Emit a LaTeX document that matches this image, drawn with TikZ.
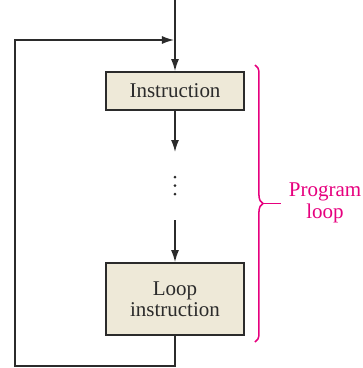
\documentclass[tikz,border=0pt]{standalone}
\usepackage{fontspec}
\setmainfont{Liberation Serif}
\usetikzlibrary{arrows.meta,decorations.pathreplacing}
\definecolor{boxfill}{HTML}{EEE9D8}
\definecolor{mag}{HTML}{E6007E}
\definecolor{edge}{HTML}{2B2B2B}
\begin{document}
\begin{tikzpicture}[x=1pt,y=-1pt,
  flowbox/.style={draw=edge,line width=1.8pt,fill=boxfill,minimum width=138pt,inner sep=0pt,align=center,font=\fontsize{21}{20.5}\selectfont,text=edge},
  conn/.style={draw=edge,line width=1.4pt},
  arr/.style={conn,-{Latex[length=12pt,width=8pt]}},
  dotmark/.style={fill=edge,circle,inner sep=0pt,minimum size=3pt}]
\useasboundingbox (0,0) rectangle (363,368);
\node[flowbox,minimum height=38pt] (ins) at (175,91) {Instruction};
\node[flowbox,minimum height=72pt] (loop) at (175,299) {Loop\\instruction};
\coordinate (top) at (175,0);
\coordinate (join) at (175,40);
\coordinate (joinin) at (174,40);
\coordinate (a1) at (175,152);
\coordinate (a2) at (175,220);
\node[dotmark] (d1) at (175,177) {};
\node[dotmark] (d2) at (175,185.5) {};
\node[dotmark] (d3) at (175,194) {};
\coordinate (b1) at (175,366);
\coordinate (b2) at (15,366);
\coordinate (b3) at (15,40);
\draw[conn] (top) -- (join);
\draw[arr] (join) -- (ins.north);
\draw[arr] (ins.south) -- (a1);
\draw[arr] (a2) -- (loop.north);
\draw[arr] (loop.south) -- (b1) -- (b2) -- (b3) -- (joinin);
\coordinate (br1) at (255,65);
\coordinate (br2) at (255,342);
\coordinate (tip) at (263,203.5);
\coordinate (tipend) at (281,203.5);
\draw[mag,line width=1.5pt,decorate,decoration={brace,amplitude=8pt}] (br1) -- (br2);
\draw[mag,line width=1.5pt] (tip) -- (tipend);
\node[text=mag,align=center,font=\fontsize{21}{22}\selectfont] (lbl) at (325,203) {Program\\loop};
\end{tikzpicture}
\end{document}
